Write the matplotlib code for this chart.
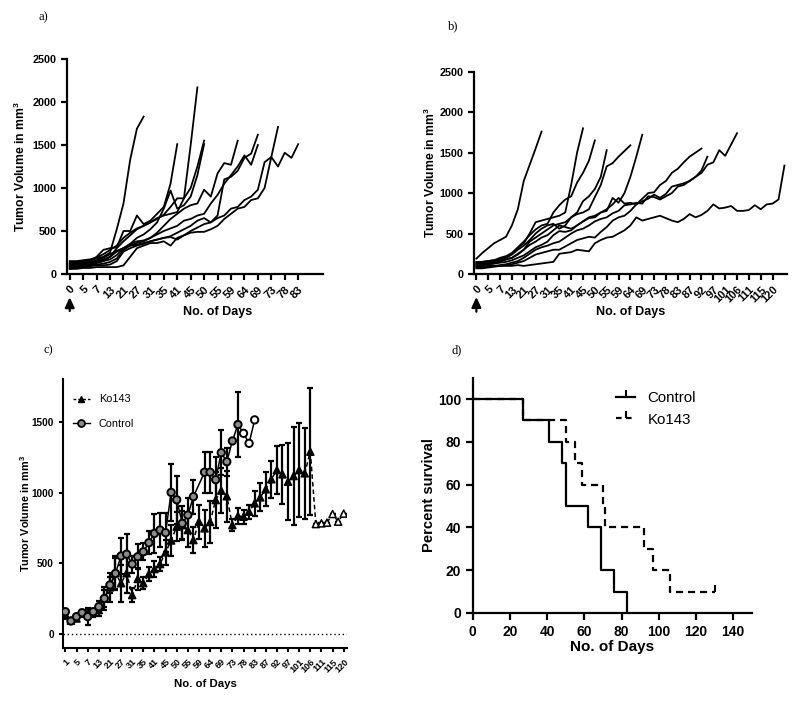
import numpy as np
import matplotlib
matplotlib.use("Agg")
import matplotlib.pyplot as plt
from matplotlib.lines import Line2D

plt.rcParams['font.family'] = ['Liberation Sans', 'DejaVu Sans']
plt.rcParams['mathtext.fontset'] = 'custom'
plt.rcParams['mathtext.bf'] = 'Liberation Sans:bold'
plt.rcParams['mathtext.rm'] = 'Liberation Sans'

# ---------------- data ----------------
labels_a = ["0", "5", "7", "13", "21", "27", "31", "35", "41", "45", "50", "55",
            "59", "64", "69", "73", "78", "83"]
labels_b = ["0", "5", "7", "13", "21", "27", "31", "35", "41", "45", "50", "55",
            "59", "64", "69", "73", "78", "83", "87", "92", "97", "101", "106",
            "111", "115", "120"]
labels_c = ["1", "5", "7", "13", "21", "27", "31", "35", "41", "45", "50", "55",
            "59", "64", "69", "73", "78", "83", "87", "92", "97", "101", "106",
            "111", "115", "120"]

# Panel a: individual control tumours (values per measurement)
a1 = [130, 140, 150, 160, 180, 200, 250, 520, 820, 1330, 1690, 1830]
a2 = [150, 150, 160, 170, 190, 230, 280, 330, 420, 480, 530, 560, 600, 650,
      680, 700, 720, 880, 1500, 2170]
a3 = [110, 120, 130, 150, 200, 280, 300, 310, 500, 500, 680, 580, 620, 700,
      780, 1050, 1510]
a4 = [80, 90, 100, 110, 130, 150, 200, 300, 380, 450, 520, 560, 600, 640,
      690, 780, 880, 880, 1000, 1250, 1550]
a5 = [100, 110, 120, 130, 150, 170, 200, 260, 300, 350, 420, 460, 520, 600,
      760, 970, 760, 800, 900, 1150, 1510]
a6 = [120, 130, 130, 140, 160, 190, 230, 270, 300, 330, 360, 380, 420, 480,
      560, 640, 700, 760, 800, 820, 980, 900, 1170, 1290, 1270, 1550]
a7 = [70, 80, 90, 100, 110, 120, 140, 180, 280, 330, 340, 360, 380, 400, 420,
      440, 480, 520, 560, 620, 650, 600, 680, 1100, 1130, 1200, 1350, 1400, 1620]
a8 = [90, 100, 110, 120, 130, 150, 170, 220, 300, 350, 380, 390, 420, 460,
      500, 530, 560, 620, 640, 680, 700, 820, 920, 1050, 1150, 1250, 1380,
      1270, 1500]
a9 = [60, 70, 80, 90, 100, 100, 110, 150, 260, 300, 330, 350, 380, 400, 420,
      430, 400, 450, 500, 540, 580, 600, 650, 680, 760, 780, 860, 900, 980,
      1300, 1360, 1710]
a10 = [60, 60, 70, 70, 80, 80, 80, 80, 100, 200, 300, 330, 360, 360, 380, 330,
       420, 450, 480, 490, 490, 520, 560, 640, 700, 760, 780, 860, 880, 1000,
       1360, 1250, 1410, 1350, 1510]
panel_a = [a1, a2, a3, a4, a5, a6, a7, a8, a9, a10]

# Panel b: individual Ko143 tumours
b1 = [190, 260, 320, 380, 420, 460, 600, 800, 1150, 1350, 1550, 1760]
b2 = [120, 130, 140, 150, 180, 200, 250, 320, 380, 500, 640, 660, 680, 700,
      720, 760, 1100, 1500, 1800]
b3 = [150, 150, 160, 170, 200, 220, 260, 330, 400, 480, 550, 600, 620, 760,
      850, 920, 960, 1130, 1250, 1400, 1650]
b4 = [100, 110, 120, 130, 150, 180, 200, 250, 300, 400, 450, 500, 550, 600,
      620, 640, 700, 760, 900, 960, 1050, 1200, 1530]
b5 = [140, 150, 160, 170, 180, 200, 240, 300, 350, 420, 500, 560, 600, 620,
      560, 600, 700, 740, 760, 800, 950, 1100, 1330, 1370, 1450, 1520, 1590]
b6 = [130, 140, 140, 150, 160, 180, 200, 240, 300, 360, 400, 450, 480, 540,
      600, 580, 560, 600, 650, 690, 700, 760, 780, 940, 880, 1000, 1200, 1450,
      1720]
b7 = [110, 110, 120, 130, 140, 150, 170, 200, 230, 280, 330, 360, 400, 480,
      530, 520, 540, 600, 650, 700, 720, 760, 800, 860, 940, 870, 880, 860,
      930, 1000, 1010, 1100, 1150, 1250, 1300, 1380, 1450, 1500, 1550]
b8 = [90, 90, 100, 100, 110, 120, 140, 160, 200, 250, 300, 330, 350, 380, 400,
      450, 500, 540, 560, 600, 650, 680, 700, 750, 780, 850, 860, 880, 870,
      960, 950, 920, 960, 1000, 1080, 1100, 1150, 1200, 1280, 1450]
b9 = [80, 80, 90, 100, 100, 110, 120, 140, 160, 200, 240, 260, 280, 300, 300,
      340, 380, 420, 440, 460, 450, 520, 580, 660, 700, 720, 780, 860, 900,
      930, 980, 940, 990, 1080, 1100, 1120, 1150, 1200, 1250, 1350, 1380, 1530,
      1460, 1600, 1740]
b10 = [70, 70, 80, 90, 100, 100, 100, 110, 100, 110, 120, 130, 140, 150, 250,
       260, 270, 300, 290, 280, 380, 420, 450, 460, 500, 540, 600, 700, 660,
       680, 700, 720, 690, 660, 640, 680, 740, 700, 730, 780, 860, 810, 820,
       840, 780, 780, 790, 850, 800, 860, 870, 920, 1340]
panel_b = [b1, b2, b3, b4, b5, b6, b7, b8, b9, b10]

# Panel c: mean +/- SEM
ctrl_mean = [158, 92, 123, 151, 123, 158, 193, 252, 347, 429, 552, 565, 495,
             547, 582, 646, 712, 736, 717, 1002, 950, 783, 842, 972, np.nan,
             1145, 1145, 1092, 1283, 1219, 1366, 1482, 1420, 1349, 1515]
ctrl_sem = [20, 10, 20, 15, 60, 20, 40, 60, 60, 120, 130, 140, 60, 90, 60, 80,
            140, 120, 140, 200, 170, 120, 120, 120, np.nan, 145, 145, 160, 160,
            100, 0, 230, 0, 0, 0]
ko_mean = [130, 95, 110, 145, 150, 150, 170, 250, 330, 430, 360, 430, 276, 390,
           360, 425, 460, 495, 578, 662, 760, 771, 736, 665, 795, 748, 793, 948,
           1015, 975, 771, 835, 830, 866, 925, 967, 1024, 1095, 1160, 1130,
           1078, 1118, 1160, 1137, 1290, 778, 783, 788, 849, 795, 852]
ko_sem = [20, 15, 20, 25, 30, 30, 40, 80, 100, 110, 130, 140, 50, 80, 40, 50,
          60, 50, 90, 110, 100, 100, 120, 90, 120, 130, 150, 200, 160, 180, 40,
          60, 50, 50, 90, 100, 120, 130, 170, 210, 270, 350, 330, 320, 450, 0,
          0, 0, 0, 0, 0]

# Panel d: Kaplan-Meier survival
ctrl_days = [0, 27, 41, 48, 50, 62, 69, 76, 83]
ctrl_surv = [100, 90, 80, 70, 50, 40, 20, 10, 0]
ko_days = [0, 27, 50, 55, 59, 70, 71, 92, 97, 106, 130]
ko_surv = [100, 90, 80, 70, 60, 50, 40, 30, 20, 10, 10]

# ---------------- figure ----------------
fig = plt.figure(figsize=(8, 7.04), dpi=100)

axA = fig.add_axes([0.0838, 0.6108, 0.320, 0.3054])
axB = fig.add_axes([0.5925, 0.6108, 0.391, 0.2874])
axC = fig.add_axes([0.0788, 0.0791, 0.355, 0.3821])
axD = fig.add_axes([0.5909, 0.1293, 0.3488, 0.3342])


def style(ax, lw=1.6):
    for s in ['top', 'right']:
        ax.spines[s].set_visible(False)
    for s in ['left', 'bottom']:
        ax.spines[s].set_linewidth(lw)
    ax.tick_params(width=lw, length=4, direction='out')


def spaghetti(ax, series, labels, xmax, arrow_tip, arrow_base):
    for s in series:
        ax.plot(np.arange(len(s)), s, color='black', lw=1.3)
    ax.set_xlim(-0.4, xmax)
    ax.set_ylim(0, 2500)
    ax.set_yticks([0, 500, 1000, 1500, 2000, 2500])
    ax.set_xticks(np.arange(0, 2 * len(labels), 2))
    ax.set_xticklabels(labels, rotation=45, ha='right', rotation_mode='anchor',
                       fontsize=8, fontweight='bold')
    for t in ax.get_yticklabels():
        t.set_fontsize(7.8)
        t.set_fontweight('bold')
    ax.set_ylabel(r'Tumor Volume in mm$^\mathbf{3}$', fontsize=8.7,
                  fontweight='bold')
    ax.set_xlabel('No. of Days', fontsize=9, fontweight='bold')
    style(ax)
    ax.annotate('', xy=(0, arrow_tip), xytext=(0, arrow_base),
                xycoords=('data', 'axes fraction'),
                textcoords=('data', 'axes fraction'),
                arrowprops=dict(arrowstyle='-|>,head_width=0.28,head_length=0.6',
                                color='black', lw=1.6),
                annotation_clip=False)


spaghetti(axA, panel_a, labels_a, 37.7, -0.095, -0.185)
axA.xaxis.set_label_coords(0.59, -0.15)
spaghetti(axB, panel_b, labels_b, 52.4, -0.10, -0.20)
axB.xaxis.set_label_coords(0.50, -0.16)
axA.yaxis.set_label_coords(-0.152, 0.5)
axB.yaxis.set_label_coords(-0.115, 0.5)

# ---- Panel c ----
xc = np.arange(len(ctrl_mean))
cm = np.array(ctrl_mean, dtype=float)
cs = np.array(ctrl_sem, dtype=float)
ok = ~np.isnan(cm)
xk = np.arange(len(ko_mean))
km = np.array(ko_mean, dtype=float)
ks = np.array(ko_sem, dtype=float)

axC.axhline(0, color='black', lw=1.0, ls=(0, (1, 2)))
axC.errorbar(xk, km, yerr=ks, fmt='none', ecolor='black', elinewidth=1.6,
             capsize=2.3, capthick=1.6, zorder=2)
axC.errorbar(xc[ok], cm[ok], yerr=cs[ok], fmt='none', ecolor='black',
             elinewidth=1.6, capsize=2.3, capthick=1.6, zorder=2)
axC.plot(xk, km, color='black', lw=1.1, ls=(0, (3, 2)), zorder=3)
axC.plot(xc[ok], cm[ok], color='black', lw=1.1, zorder=3)
ko_face = ['black' if i < 45 else 'white' for i in xk]
axC.scatter(xk, km, marker='^', s=26, c=ko_face, edgecolors='black',
            linewidths=1.1, zorder=4)
ctrl_face = ['#8c8c8c' if i < 32 else 'white' for i in xc[ok]]
axC.scatter(xc[ok], cm[ok], marker='o', s=28, c=ctrl_face, edgecolors='black',
            linewidths=1.4, zorder=5)
axC.set_xlim(-0.42, 50.6)
axC.set_ylim(-101, 1802)
axC.set_yticks([0, 500, 1000, 1500])
axC.set_xticks(np.arange(0, 2 * len(labels_c), 2))
axC.set_xticklabels(labels_c, rotation=45, ha='right', rotation_mode='anchor',
                    fontsize=6.5, fontweight='bold')
for t in axC.get_yticklabels():
    t.set_fontsize(7.2)
    t.set_fontweight('bold')
axC.set_ylabel(r'Tumor Volume in mm$^\mathbf{3}$', fontsize=7.8,
               fontweight='bold')
axC.yaxis.set_label_coords(-0.11, 0.5)
axC.set_xlabel('No. of Days', fontsize=8.2, fontweight='bold')
axC.xaxis.set_label_coords(0.50, -0.115)
style(axC, 1.5)
axC.tick_params(length=3)
hk = Line2D([], [], color='black', ls=(0, (2, 1.5)), lw=1.0, marker='^',
            markersize=4.5, mfc='black')
hc = Line2D([], [], color='black', lw=1.0, marker='o', markersize=5,
            mfc='#8c8c8c', mew=1.3)
axC.legend([hk, hc], ['Ko143', 'Control'], loc='upper left',
           bbox_to_anchor=(0.0, 0.98), frameon=False, fontsize=7.8,
           handlelength=1.6, labelspacing=1.3, handletextpad=0.8)

# ---- Panel d ----
axD.step(ctrl_days, ctrl_surv, where='post', color='black', lw=1.6)
axD.step(ko_days, ko_surv, where='post', color='black', lw=1.6,
         ls=(0, (3.2, 2.2)))
axD.plot(ko_days[-1:], ko_surv[-1:], marker=2, color='black', markersize=5,
         mew=1.5)
axD.set_xlim(0, 150)
axD.set_ylim(0, 110)
axD.set_xticks(np.arange(0, 141, 20))
axD.set_yticks(np.arange(0, 101, 20))
for t in axD.get_xticklabels() + axD.get_yticklabels():
    t.set_fontsize(10)
    t.set_fontweight('bold')
axD.set_xlabel('No. of Days', fontsize=11, fontweight='bold', labelpad=1)
axD.set_ylabel('Percent survival', fontsize=10.6, fontweight='bold')
axD.yaxis.set_label_coords(-0.13, 0.5)
style(axD, 1.6)
axD.tick_params(length=5)
hdc = Line2D([], [], color='black', lw=1.6, marker=2, markersize=5, mew=1.5)
hdk = Line2D([], [], color='black', lw=1.6, ls=(0, (2.5, 2)), marker=2,
             markersize=5, mew=1.5)
axD.legend([hdc, hdk], ['Control', 'Ko143'], loc='upper left',
           bbox_to_anchor=(0.465, 1.0), frameon=False, fontsize=10.8,
           handlelength=1.3, labelspacing=0.5, handletextpad=0.8)

# panel letters
for txt, x, y in [('a)', 0.054, 0.976), ('b)', 0.566, 0.963),
                  ('c)', 0.060, 0.503), ('d)', 0.571, 0.503)]:
    fig.text(x, y, txt, fontsize=9, family='Liberation Serif',
             ha='center', va='center')

fig.savefig('out.png', dpi=100, facecolor='white')
